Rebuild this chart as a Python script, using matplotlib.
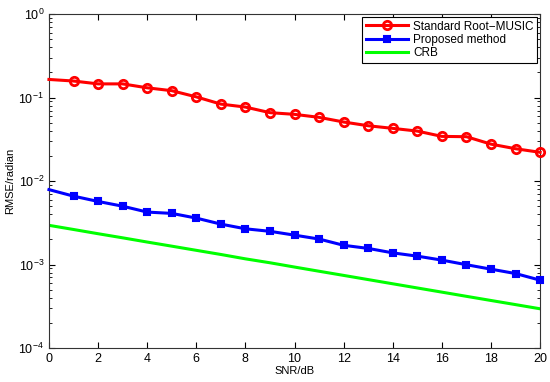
import matplotlib
matplotlib.use("Agg")
import matplotlib.pyplot as plt
from matplotlib.ticker import LogLocator, NullFormatter, FixedLocator

plt.rcParams['font.family'] = ['Liberation Sans', 'DejaVu Sans']

snr = list(range(0, 21))
root_music = [0.165, 0.158, 0.146, 0.146, 0.131, 0.121, 0.102, 0.0836, 0.077, 0.066,
              0.063, 0.058, 0.051, 0.046, 0.0428, 0.0397, 0.0343, 0.034, 0.0277, 0.0244, 0.0221]
proposed = [0.0079, 0.0066, 0.0057, 0.0050, 0.00425, 0.0041, 0.0036, 0.00305, 0.00268, 0.0025,
            0.00225, 0.00202, 0.0017, 0.00156, 0.00138, 0.00126, 0.00113, 0.000995, 0.00088, 0.00078, 0.00065]
crb = [0.00295, 0.00263, 0.00234, 0.00209, 0.00186, 0.00166, 0.00148, 0.00132, 0.00117, 0.00105,
       0.000933, 0.000831, 0.000741, 0.000660, 0.000588, 0.000524, 0.000467, 0.000416, 0.000371, 0.000331, 0.000295]
xticks = [0, 2, 4, 6, 8, 10, 12, 14, 16, 18, 20]

fig = plt.figure(figsize=(5.5, 3.82), dpi=100)
ax = fig.add_axes([0.089, 0.089, 0.893, 0.874])

marks = list(range(1, len(snr)))
ax.semilogy(snr, root_music, '-o', color='#ff0000', lw=2.2, ms=6, mfc='none', mew=2.0,
            markevery=marks, clip_on=False, zorder=3, label='Standard Root\u2212MUSIC')
ax.semilogy(snr, proposed, '-s', color='#0000ff', lw=2.2, ms=5, mfc='#0000ff', mew=1.5,
            markevery=marks, clip_on=False, zorder=3, label='Proposed method')
ax.semilogy(snr, crb, '-', color='#00ff00', lw=2.2, label='CRB')

ax.set_xlim(0, 20)
ax.set_ylim(1e-4, 1)
ax.xaxis.set_major_locator(FixedLocator(xticks))
ax.yaxis.set_major_locator(LogLocator(base=10, numticks=10))
ax.yaxis.set_minor_locator(LogLocator(base=10, subs=range(2, 10), numticks=10))
ax.yaxis.set_minor_formatter(NullFormatter())
ax.tick_params(which='both', direction='in', top=True, right=True, labelsize=9)
ax.tick_params(which='major', length=4)
ax.tick_params(which='minor', length=2)
for s in ax.spines.values():
    s.set_linewidth(0.8)
    s.set_color('#333333')

ax.set_xlabel('SNR/dB', fontsize=8, labelpad=1)
ax.set_ylabel('RMSE/radian', fontsize=8, labelpad=2)

leg = ax.legend(loc='upper right', fontsize=8.5, fancybox=False, edgecolor='black',
                framealpha=1, borderaxespad=0.25, handlelength=3.6, labelspacing=0.1,
                borderpad=0.3, handletextpad=0.4)
leg.get_frame().set_linewidth(0.8)

fig.savefig('out.png', dpi=100)
